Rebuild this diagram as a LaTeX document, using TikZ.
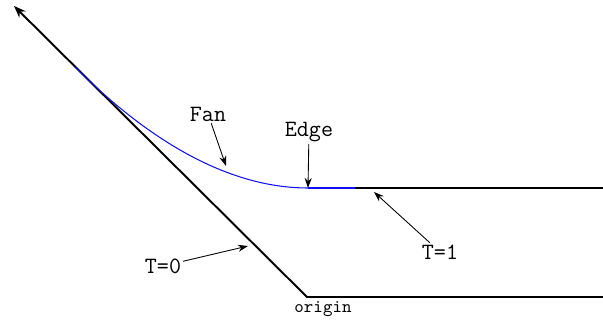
\documentclass[tikz,border=0pt]{standalone}
\usetikzlibrary{arrows.meta}
\definecolor{fcolor}{HTML}{1010F0}

\begin{document}
\begin{tikzpicture}[x=0.02cm, y=-0.02cm,
    axis/.style={line width=1.1pt, black},
    fan/.style={line width=0.6pt, fcolor},
    ptr/.style={-{Stealth[length=2mm, width=1.4mm]}, line width=0.5pt},
    lbl/.style={font=\ttfamily\fontsize{13.3}{15}\selectfont, inner sep=1pt},
    small/.style={font=\ttfamily\fontsize{10.3}{12}\selectfont, inner sep=1pt},
  ]
    \useasboundingbox (0,0) rectangle (603,320);

    % characteristics
    \coordinate (tip) at (14,6);
    \coordinate (O) at (307,297);
    \coordinate (Oend) at (603,297);
    \coordinate (E) at (308,188);
    \coordinate (Eend) at (603,188);
    \coordinate (F0) at (75,67);

    \draw[axis, {Stealth[length=2.4mm, width=1.8mm]}-] (tip) -- (O) -- (Oend);
    \draw[axis] (E) -- (Eend);
    \draw[fan] (F0) .. controls (156,148) and (235,188) .. (E);
    \draw[line width=1.1pt, fcolor] (E) -- ++(47,0);

    % labels
    \node[lbl] (fanlbl) at (208,114) {Fan};
    \node[lbl] (edgelbl) at (309,132) {Edge};
    \node[lbl] (t0lbl) at (163,266) {T=0};
    \node[lbl] (t1lbl) at (440,252) {T=1};
    \node[small] (orig) at (323,309) {origin};

    \coordinate (fanpt) at (226,166);
    \coordinate (t0pt) at (248,246);
    \coordinate (t1pt) at (374,192);

    \draw[ptr] (fanlbl) -- (fanpt);
    \draw[ptr] (edgelbl) -- (E);
    \draw[ptr] (t0lbl) -- (t0pt);
    \draw[ptr] (t1lbl) -- (t1pt);
  \end{tikzpicture}
\end{document}
